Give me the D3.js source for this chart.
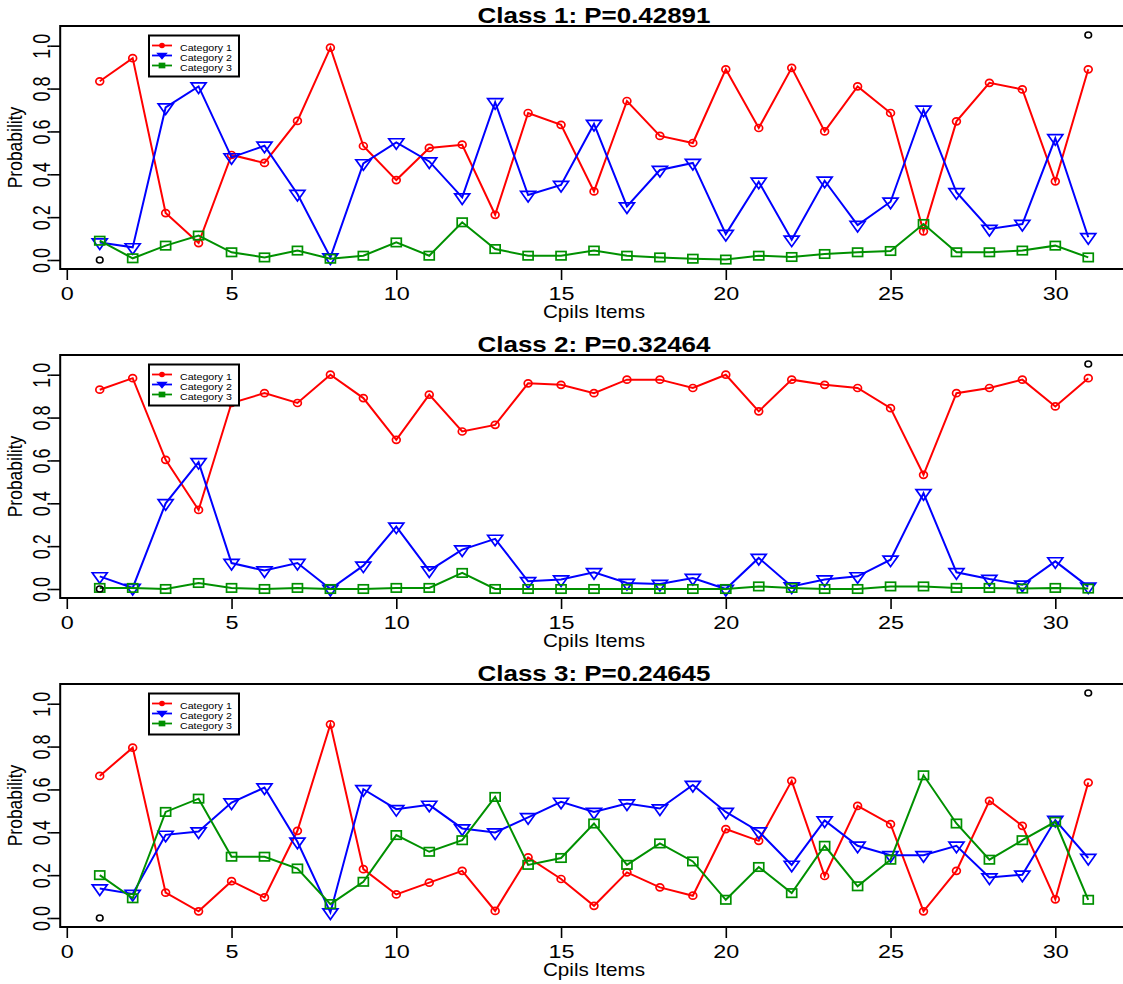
<!DOCTYPE html>
<html>
<head>
<meta charset="utf-8">
<script src="https://cdn.jsdelivr.net/npm/d3@7/dist/d3.min.js"></script>
<style>
body { margin: 0; background: #fff; }
text { font-family: "Liberation Sans", Arial, sans-serif; fill: #000; }
</style>
</head>
<body>
<svg width="1123" height="984"></svg>
<script>
var items = [1,2,3,4,5,6,7,8,9,10,11,12,13,14,15,16,17,18,19,20,21,22,23,24,25,26,27,28,29,30,31];
var classTitles = ["Class 1: P=0.42891", "Class 2: P=0.32464", "Class 3: P=0.24645"];
var catNames = ["Category 1", "Category 2", "Category 3"];
var catColors = ["#ff0000", "#0000ff", "#009000"];
var xTicks = [0, 5, 10, 15, 20, 25, 30];
var yTicks = [0, 0.2, 0.4, 0.6, 0.8, 1.0];
var xLabel = "Cpils Items";
var yLabel = "Probability";
// the two black points R used to fix the range
var rangeX = [1, 31];
var rangeY = [0, 1.05];

var c1cat1 = [0.834,0.942,0.219,0.079,0.49,0.453,0.649,0.991,0.532,0.373,0.523,0.538,0.211,0.686,0.631,0.32,0.742,0.579,0.546,0.89,0.616,0.897,0.6,0.81,0.686,0.134,0.647,0.827,0.796,0.367,0.89];
var c1cat2 = [0.082,0.059,0.712,0.81,0.479,0.533,0.308,0.012,0.451,0.549,0.46,0.292,0.736,0.303,0.35,0.635,0.25,0.42,0.453,0.121,0.365,0.095,0.37,0.163,0.272,0.701,0.316,0.145,0.168,0.568,0.106];
var c1cat3 = [0.09,0.008,0.067,0.114,0.036,0.012,0.044,0.006,0.02,0.082,0.02,0.176,0.051,0.02,0.02,0.044,0.02,0.012,0.006,0.002,0.02,0.014,0.028,0.036,0.042,0.168,0.036,0.036,0.044,0.067,0.012];

var c2cat1 = [0.93,0.984,0.603,0.369,0.868,0.914,0.868,1.0,0.891,0.696,0.907,0.735,0.766,0.96,0.953,0.914,0.977,0.977,0.938,1.0,0.829,0.977,0.953,0.938,0.844,0.533,0.914,0.938,0.977,0.852,0.984];
var c2cat2 = [0.059,0.005,0.40,0.592,0.121,0.086,0.121,0.0,0.109,0.291,0.086,0.184,0.234,0.036,0.044,0.078,0.028,0.023,0.051,0.0,0.145,0.012,0.044,0.059,0.137,0.447,0.078,0.047,0.02,0.129,0.011];
var c2cat3 = [0.005,0.005,0.0,0.028,0.005,0.0,0.005,0.0,0.0,0.005,0.005,0.075,0.0,0.0,0.0,0.0,0.0,0.0,0.0,0.0,0.012,0.005,0.0,0.0,0.012,0.012,0.005,0.005,0.002,0.005,0.002];

var c3cat1 = [0.663,0.795,0.118,0.031,0.172,0.096,0.407,0.904,0.228,0.11,0.165,0.22,0.033,0.283,0.182,0.057,0.213,0.143,0.104,0.415,0.36,0.64,0.196,0.523,0.438,0.031,0.22,0.547,0.43,0.087,0.632];
var c3cat2 = [0.138,0.112,0.388,0.404,0.539,0.609,0.356,0.026,0.601,0.508,0.528,0.418,0.399,0.47,0.542,0.495,0.534,0.511,0.621,0.495,0.404,0.248,0.455,0.337,0.293,0.293,0.337,0.189,0.202,0.457,0.28];
var c3cat3 = [0.2,0.092,0.495,0.557,0.286,0.286,0.231,0.065,0.169,0.387,0.309,0.363,0.565,0.248,0.28,0.441,0.248,0.348,0.264,0.085,0.238,0.116,0.337,0.148,0.272,0.666,0.441,0.272,0.363,0.449,0.085];

var classSeries = [[c1cat1, c1cat2, c1cat3], [c2cat1, c2cat2, c2cat3], [c3cat1, c3cat2, c3cat3]];

var svg = d3.select("svg");
var panelTops = [26, 355, 684];
var boxH = 243;
var boxLeft = 60.2;
var sx = 1.18; // the picture is wider than the fonts
var tsx = 1.3; // tick labels are stretched a bit more

var x = d3.scaleLinear().domain([-0.2, 32.2]).range([boxLeft, 1127.8]);
var midX = (boxLeft + 1127.8) / 2;

// marker drawers: circle, down triangle, square
function drawMarker(g, k, cx, cy, small) {
	var col = catColors[k];
	if (k == 0) {
		g.append("ellipse").attr("cx", cx).attr("cy", cy)
			.attr("rx", small ? 2 : 3.9).attr("ry", small ? 1.8 : 3.5)
			.attr("fill", small ? col : "none").attr("stroke", col).attr("stroke-width", 1.7);
	} else if (k == 1) {
		var w = small ? 4 : 7.5, up = small ? 2 : 3.6, dn = small ? 3 : 7;
		g.append("path")
			.attr("d", "M" + (cx - w) + "," + (cy - up) + "L" + (cx + w) + "," + (cy - up) + "L" + cx + "," + (cy + dn) + "Z")
			.attr("fill", small ? col : "none").attr("stroke", col).attr("stroke-width", 1.7);
	} else {
		var hw = small ? 2.5 : 5, hh = small ? 2 : 4.2;
		g.append("rect").attr("x", cx - hw).attr("y", cy - hh)
			.attr("width", hw * 2).attr("height", hh * 2)
			.attr("fill", small ? col : "none").attr("stroke", col).attr("stroke-width", 1.7);
	}
}

classSeries.forEach(function(series, p) {
	var top = panelTops[p];
	var bottom = top + boxH;
	var y = d3.scaleLinear().domain([-0.042, 1.092]).range([bottom, top]);
	var g = svg.append("g");

	// lines + markers
	series.forEach(function(vals, k) {
		var line = d3.line()
			.x(function(d, i) { return x(items[i]); })
			.y(function(d) { return y(d); });
		g.append("path").datum(vals)
			.attr("d", line)
			.attr("fill", "none")
			.attr("stroke", catColors[k])
			.attr("stroke-width", 2);
		var mg = g.append("g");
		vals.forEach(function(v, i) { drawMarker(mg, k, x(items[i]), y(v), false); });
	});

	// black range points
	rangeX.forEach(function(rx, i) {
		g.append("ellipse").attr("cx", x(rx)).attr("cy", y(rangeY[i]))
			.attr("rx", 3.3).attr("ry", 3)
			.attr("fill", "none").attr("stroke", "#000").attr("stroke-width", 1.6);
	});

	// box (right side runs off the page)
	g.append("path")
		.attr("d", "M1140," + top + "H" + boxLeft + "V" + bottom + "H1140")
		.attr("fill", "none").attr("stroke", "#000").attr("stroke-width", 2);

	// x axis
	var xa = g.append("g").attr("transform", "translate(0," + bottom + ")")
		.call(d3.axisBottom(x).tickValues(xTicks).tickSize(11).tickFormat(d3.format("d")));
	xa.select(".domain").remove();
	xa.selectAll("line").attr("stroke", "#000").attr("stroke-width", 1.6);
	xa.selectAll("text")
		.attr("x", 0).attr("y", 31.5).attr("dy", null)
		.attr("transform", "scale(" + tsx + ",1)")
		.style("font-family", "Liberation Sans, Arial, sans-serif")
		.style("font-size", "18px").attr("fill", "#000");

	// y axis
	var ya = g.append("g").attr("transform", "translate(" + boxLeft + ",0)")
		.call(d3.axisLeft(y).tickValues(yTicks).tickSize(10).tickFormat(d3.format(".1f")));
	ya.select(".domain").remove();
	ya.selectAll("line").attr("stroke", "#000").attr("stroke-width", 1.6);
	ya.selectAll("text")
		.attr("x", null).attr("dy", null)
		.attr("text-anchor", "middle")
		.attr("transform", "translate(-10.5,0) scale(" + tsx + ",1) rotate(-90)")
		.style("font-family", "Liberation Sans, Arial, sans-serif")
		.style("font-size", "18px").attr("fill", "#000");

	// title and axis labels
	g.append("text")
		.attr("transform", "translate(" + midX + "," + (top - 3.5) + ") scale(" + sx + ",1)")
		.attr("text-anchor", "middle")
		.style("font-size", "22px").style("font-weight", "bold")
		.text(classTitles[p]);
	g.append("text")
		.attr("transform", "translate(" + midX + "," + (bottom + 49) + ") scale(" + sx + ",1)")
		.attr("text-anchor", "middle")
		.style("font-size", "17.5px")
		.text(xLabel);
	g.append("text")
		.attr("transform", "translate(22," + ((top + bottom) / 2) + ") scale(" + sx + ",1) rotate(-90)")
		.attr("text-anchor", "middle")
		.style("font-size", "17.5px")
		.text(yLabel);

	// legend
	var lg = g.append("g").attr("transform", "translate(149," + (top + 9.5) + ")");
	lg.append("rect").attr("width", 90).attr("height", 41)
		.attr("fill", "#fff").attr("stroke", "#000").attr("stroke-width", 2);
	catNames.forEach(function(name, k) {
		var ry = 10 + k * 10;
		lg.append("line").attr("x1", 3).attr("x2", 23).attr("y1", ry).attr("y2", ry)
			.attr("stroke", catColors[k]).attr("stroke-width", 1.8);
		drawMarker(lg, k, 13, ry, true);
		lg.append("text")
			.attr("transform", "translate(31," + (ry + 5) + ") scale(" + sx + ",1)")
			.style("font-size", "9px")
			.text(name);
	});
});
</script>
</body>
</html>
